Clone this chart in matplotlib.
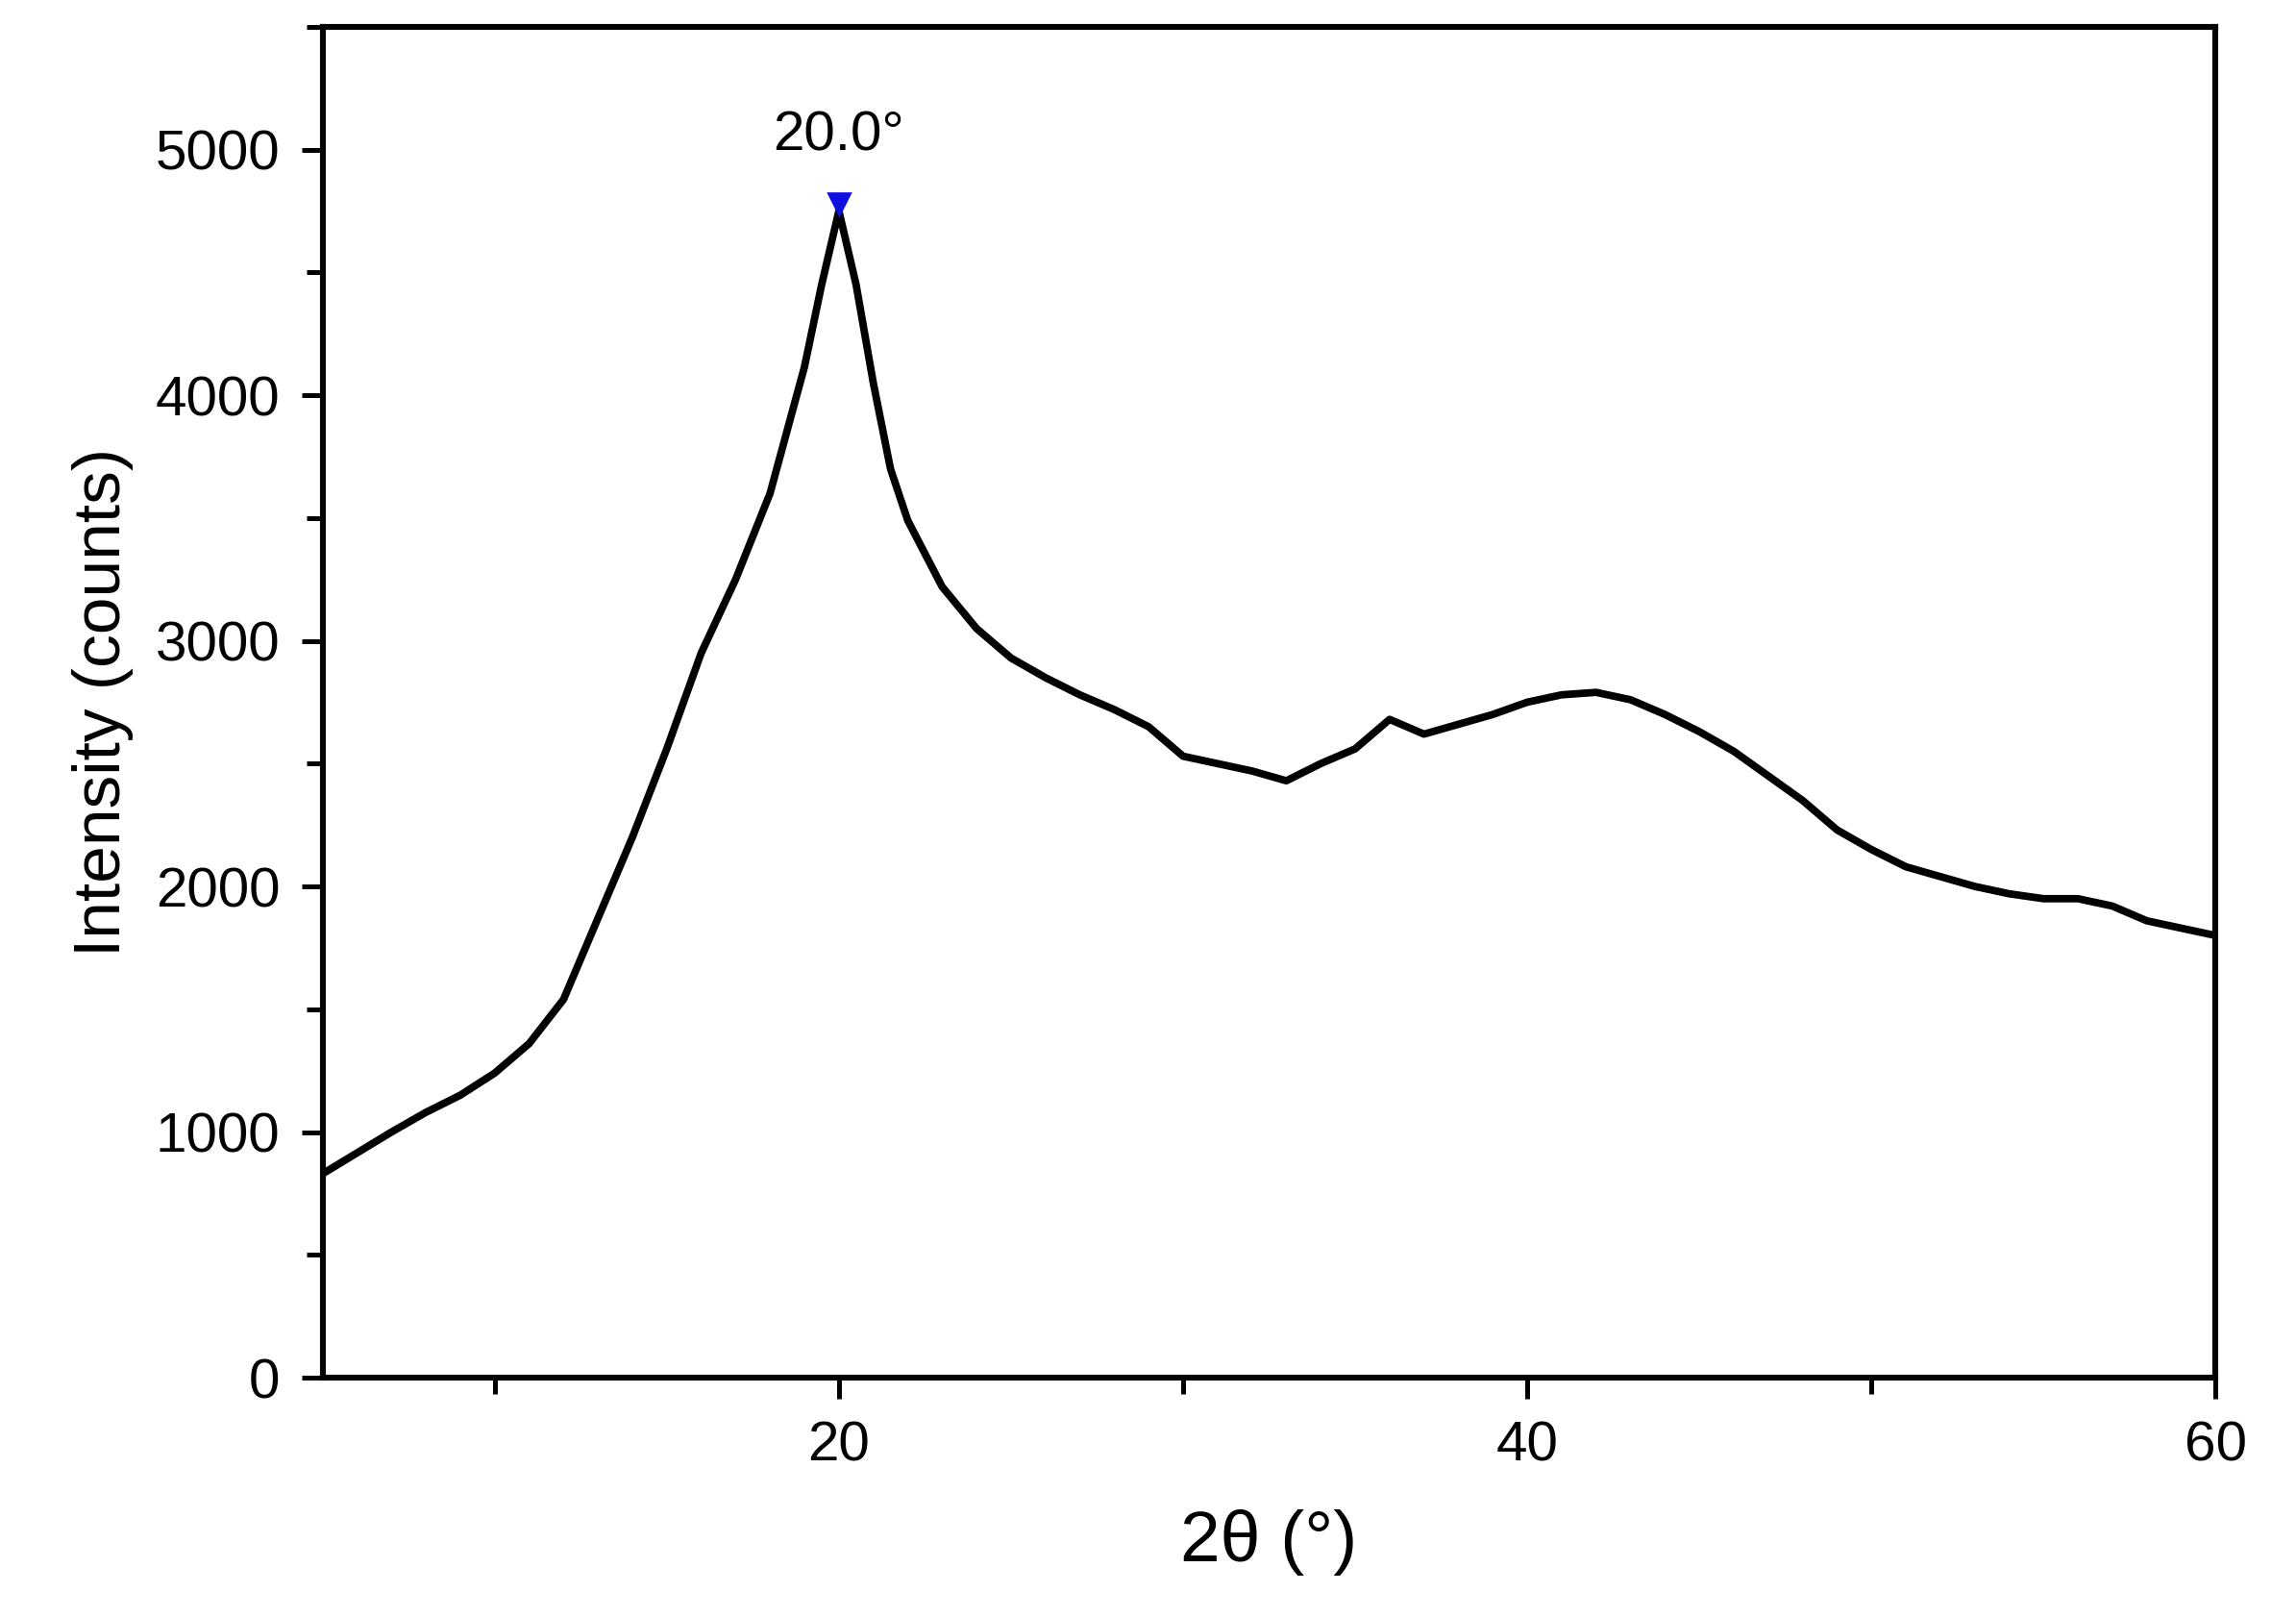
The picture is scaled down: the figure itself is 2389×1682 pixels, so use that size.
import matplotlib
matplotlib.use("Agg")
import matplotlib.pyplot as plt
from matplotlib.ticker import MultipleLocator

two_theta = [5, 6, 7, 8, 9, 10, 11, 12, 13, 14, 15, 16, 17, 18, 19, 19.5, 20, 20.5, 21, 21.5, 22, 23, 24, 25, 26, 27, 28, 29, 30,
             31, 32, 33, 34, 35, 36, 37, 38, 39, 40, 41, 42, 43, 44, 45, 46, 47, 48, 49, 50, 51, 52, 53, 54, 55,
             56, 57, 58, 59, 60]
intensity = [830, 915, 1000, 1080, 1150, 1240, 1360, 1540, 1870, 2200, 2560, 2950, 3250, 3600, 4115, 4450, 4750, 4450, 4050, 3700,
             3490, 3220, 3050, 2930, 2850, 2780, 2720, 2650, 2530, 2500, 2470, 2430, 2500, 2560, 2680, 2620, 2660,
             2700, 2750, 2780, 2790, 2760, 2700, 2630, 2550, 2450, 2350, 2230, 2150, 2080, 2040, 2000, 1970, 1950,
             1950, 1920, 1860, 1830, 1800]
peak_x = 20.0
peak_y = 4780
peak_label = "20.0°"

plt.rcParams['font.family'] = ['Liberation Sans', 'DejaVu Sans']
fig = plt.figure(figsize=(2389/200, 1682/200), dpi=200)
ax = fig.add_axes([0.1405, 0.148, 0.8245, 0.8355])
ax.plot(two_theta, intensity, color='black', lw=2.8)
ax.plot([peak_x], [peak_y], marker='v', color='#1010e0', ms=8, ls='none')
ax.text(peak_x, peak_y + 170, peak_label, ha='center', va='bottom', fontsize=21)
ax.set_xlim(5, 60)
ax.set_ylim(0, 5500)
ax.xaxis.set_major_locator(MultipleLocator(20))
ax.xaxis.set_minor_locator(MultipleLocator(10))
ax.yaxis.set_major_locator(MultipleLocator(1000))
ax.yaxis.set_minor_locator(MultipleLocator(500))
ax.tick_params(which='both', direction='out', width=1.8, labelsize=21, pad=8)
ax.tick_params(which='major', length=8)
ax.tick_params(which='minor', length=6)
for s in ax.spines.values():
    s.set_linewidth(2.2)
ax.set_xlabel("2θ (°)", fontsize=27, labelpad=14)
ax.set_ylabel("Intensity (counts)", fontsize=25, labelpad=8)
fig.savefig("out.png", dpi=200)
